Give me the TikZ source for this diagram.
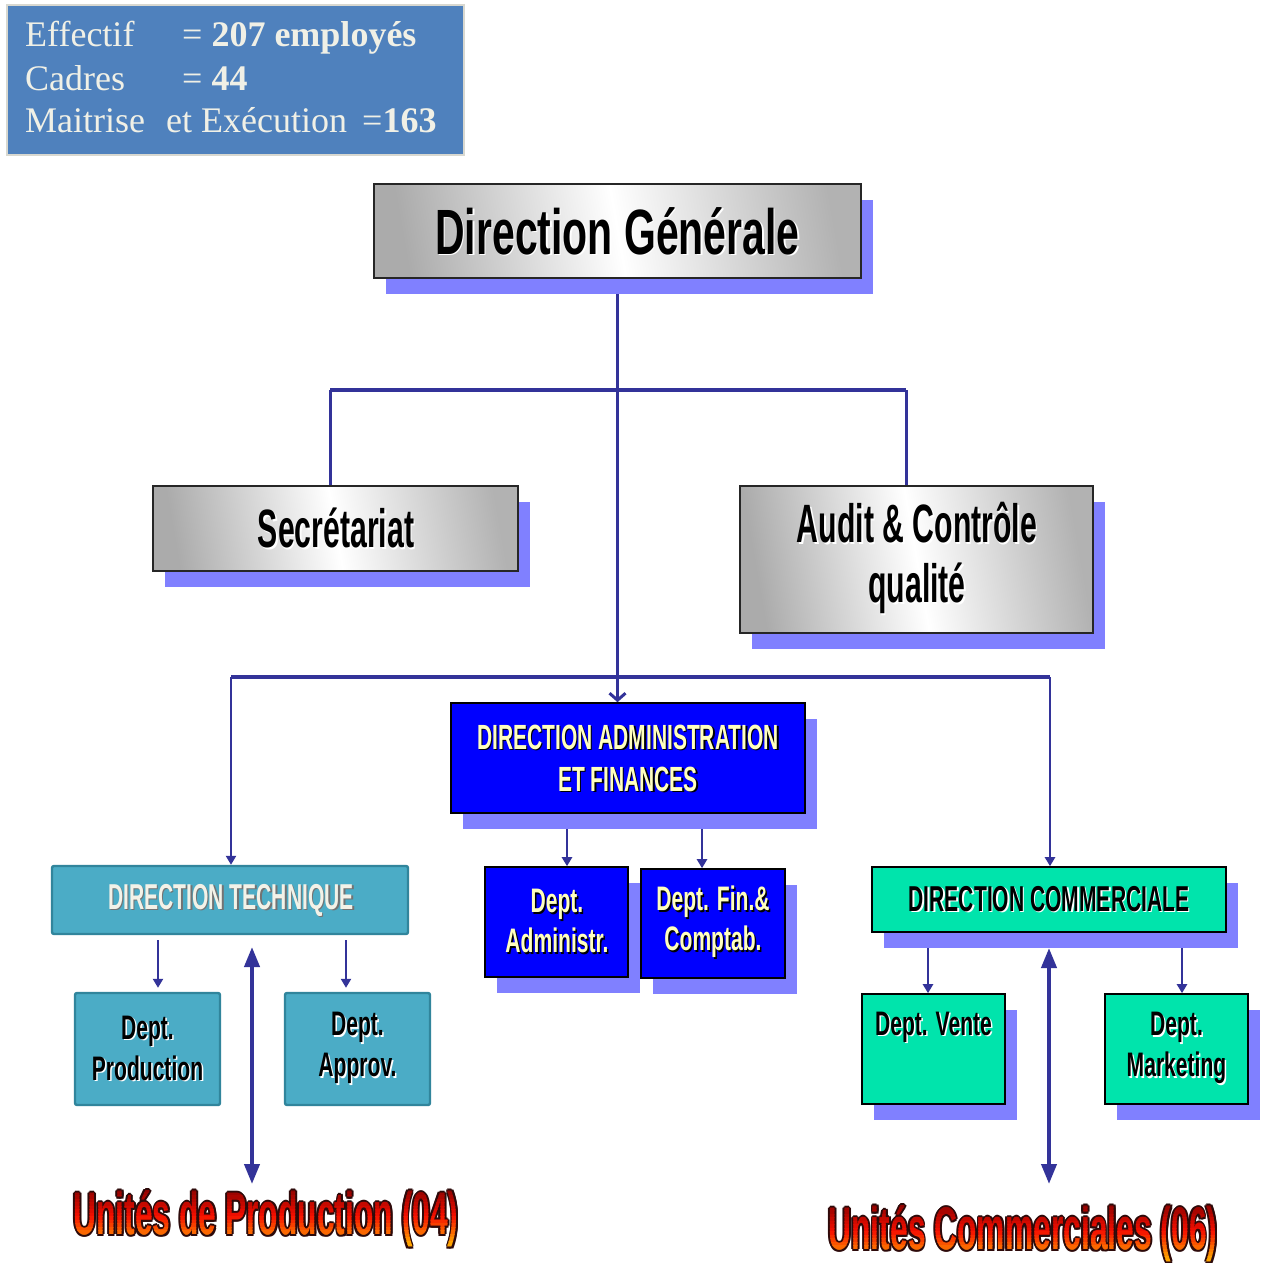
\documentclass[tikz,border=0pt]{standalone}
\usepackage{fontspec}
\setmainfont{Liberation Serif}
\setsansfont{Liberation Sans}
\usetikzlibrary{shadows,backgrounds,arrows.meta}

\definecolor{link}{RGB}{51,51,153}
\definecolor{shadowblue}{RGB}{128,128,255}
\definecolor{infoblue}{RGB}{79,129,189}
\definecolor{infoedge}{RGB}{216,216,208}
\definecolor{infotext}{RGB}{240,240,230}
\definecolor{dafblue}{RGB}{0,0,255}
\definecolor{dafyellow}{RGB}{255,255,190}
\definecolor{techteal}{RGB}{75,172,198}
\definecolor{techedge}{RGB}{49,133,156}
\definecolor{techtext}{RGB}{242,242,232}
\definecolor{commgreen}{RGB}{0,228,172}
\definecolor{waoutline}{RGB}{45,10,10}
\definecolor{wadark}{RGB}{130,0,0}
\definecolor{wared}{RGB}{245,15,0}
\definecolor{waorange}{RGB}{255,165,0}

% condensed bold sans: size, baseline skip, horizontal stretch
\newcommand\condfont[3]{\sffamily\bfseries\fontsize{#1}{#2}\selectfont\addfontfeatures{FakeStretch=#3}}

% label with a soft offset shadow: name, position, font, colour, shadow colour, text
\newcommand\twotext[6]{%
  \node[font=#3, text=#5, align=center, inner sep=0pt, xshift=1.5pt, yshift=-1.5pt] (#1-shadow) at (#2) {#6};
  \node[font=#3, text=#4, align=center, inner sep=0pt] (#1) at (#2) {#6};}

% outlined banner text with a vertical red-orange gradient: name, centre, text
\newcommand\wordart[3]{%
  \foreach \dx/\dy [count=\k] in {1.9/0,-1.9/0,0/1.9,0/-1.9,1.35/1.35,-1.35/1.35,1.35/-1.35,-1.35/-1.35}
    \node[font=\condfont{60}{60}{0.53}, text=waoutline, inner sep=0pt]
      (#1o\k) at ([shift={(\dx pt,\dy pt)}]#2) {#3};
  \foreach \i in {0,...,19}{
    \pgfmathsetmacro\ytop{-34+\i*3.5}
    \pgfmathsetmacro\tt{\i/19}
    \pgfmathsetmacro\pa{min(100,\tt*100/0.45)}
    \pgfmathsetmacro\pb{max(0,min(100,(\tt-0.45)*100/0.4))}
    \colorlet{stripc}{wared!\pa!wadark}
    \colorlet{stripc}{waorange!\pb!stripc}
    \begin{scope}
      \clip ([yshift=-\ytop pt]#2) ++(-300,0) rectangle ++(600,3.6);
      \node[font=\condfont{60}{60}{0.53}, text=stripc, inner sep=0pt] (#1g\i) at (#2) {#3};
    \end{scope}
  }}

\tikzset{
  box/.style={rectangle, inner sep=0pt},
  purpleshadow/.style={drop shadow={shadow xshift=12pt, shadow yshift=-16pt, fill=shadowblue, opacity=1}},
  greybox/.style={box, draw=black!85, line width=1.6pt, left color=black!33, right color=black!30, middle color=white, shading angle=100, purpleshadow},
  dafbox/.style={box, draw=black, line width=1.6pt, fill=dafblue, purpleshadow},
  techbox/.style={box, draw=techedge, line width=2.4pt, rounded corners=2pt, fill=techteal},
  commbox/.style={box, draw=black, line width=1.6pt, fill=commgreen, purpleshadow},
  infotxt/.style={font=\fontsize{36}{36}\selectfont, text=infotext, inner sep=0pt, anchor=base west},
  trunk/.style={link, line width=3pt},
  bar/.style={link, line width=4pt},
  feed/.style={link, line width=2.5pt, -{Triangle[length=9pt,width=10pt]}},
  bigarrow/.style={link, line width=4pt, {Triangle[length=20pt,width=15pt]}-{Triangle[length=20pt,width=15pt]}},
}

\begin{document}
\begin{tikzpicture}[x=1pt,y=-1pt]
\useasboundingbox (0,0) rectangle (1264,1263);

% head-count panel
\node[box, draw=infoedge, line width=2.5pt, fill=infoblue, minimum width=457pt, minimum height=150pt] (info) at (235.5,80) {};
\node[infotxt] (eff) at (25,47) {Effectif};
\node[infotxt] (effv) at (182,47) {= \textbf{207 employés}};
\node[infotxt] (cad) at (25,90) {Cadres};
\node[infotxt] (cadv) at (182,90) {= \textbf{44}};
\node[infotxt] (mai) at (25,132) {Maitrise};
\node[infotxt] (exe) at (166,132) {et Exécution};
\node[infotxt] (maiv) at (362,132) {=\textbf{163}};

% top level
\node[greybox, minimum width=487pt, minimum height=94pt] (dg) at (617.5,231) {};
\twotext{dgt}{dg}{\condfont{64}{64}{0.64}}{black}{white}{Direction Générale}

\node[greybox, minimum width=365pt, minimum height=85pt] (sec) at (335.5,528.5) {};
\twotext{sect}{336,528}{\condfont{54}{60}{0.56}}{black}{white}{Secrétariat}

\node[greybox, minimum width=353pt, minimum height=147pt] (aud) at (916.5,559.5) {};
\twotext{audt}{917,558}{\condfont{54}{60}{0.56}}{black}{white}{Audit \& Contrôle\\qualité}

% administration and finance
\node[dafbox, minimum width=354pt, minimum height=110pt] (daf) at (628,758) {};
\twotext{daft}{628,758}{\condfont{35}{42}{0.6}}{dafyellow}{black}{DIRECTION ADMINISTRATION\\ET FINANCES}

\node[dafbox, minimum width=143pt, minimum height=110pt] (adm) at (556.5,922) {};
\twotext{admt}{557,921}{\condfont{34}{40}{0.62}}{dafyellow}{black}{Dept.\\Administr.}
\node[dafbox, minimum width=144pt, minimum height=109pt] (fin) at (713,923.5) {};
\twotext{fint}{713,922}{\condfont{34}{40}{0.62}}{dafyellow}{black}{Dept. Fin.\&\\Comptab.}

% technical branch
\node[techbox, minimum width=356pt, minimum height=68pt] (dt) at (230,900) {};
\twotext{dtt}{231,900}{\condfont{36}{40}{0.585}}{techtext}{black!55}{DIRECTION TECHNIQUE}
\node[techbox, minimum width=145pt, minimum height=112pt] (prod) at (147.5,1049) {};
\twotext{prodt}{147.5,1048}{\condfont{34}{41}{0.62}}{black}{white}{Dept.\\Production}
\node[techbox, minimum width=145pt, minimum height=112pt] (appr) at (357.5,1049) {};
\twotext{apprt}{357.5,1048}{\condfont{34}{41}{0.62}}{black}{white}{Dept.\\Approv.}

% commercial branch
\node[commbox, minimum width=354pt, minimum height=65pt] (dc) at (1049,899.5) {};
\twotext{dct}{1049,899}{\condfont{36}{40}{0.585}}{black}{white}{DIRECTION COMMERCIALE}
\node[commbox, minimum width=143pt, minimum height=110pt] (vente) at (933.5,1049) {};
\twotext{ventet}{933.5,1027}{\condfont{34}{41}{0.62}}{black}{white}{Dept. Vente}
\node[commbox, minimum width=143pt, minimum height=110pt] (mkt) at (1176.5,1049) {};
\twotext{mktt}{1176.5,1048}{\condfont{34}{41}{0.62}}{black}{white}{Dept.\\Marketing}

% operating units
\coordinate (upc) at (266,1219);
\coordinate (ucc) at (1023,1234);
\wordart{up}{upc}{Unités de Production (04)}
\wordart{uc}{ucc}{Unités Commerciales (06)}

% junctions and free arrow ends
\coordinate (j1l) at (330,390);
\coordinate (j1r) at (906,390);
\coordinate (j2l) at (231,677);
\coordinate (j2r) at (1050,677);
\coordinate (dafa) at (567,822);
\coordinate (dafb) at (702,822);
\coordinate (dta) at (158,940);
\coordinate (dtb) at (346,940);
\coordinate (dca) at (928,944);
\coordinate (dcb) at (1182,944);
\coordinate (pu) at (252,947);
\coordinate (pd) at (252,1184);
\coordinate (cu) at (1049,948);
\coordinate (cd) at (1049,1184);

\begin{pgfonlayer}{background}
  \fill[white] (0,0) rectangle (1264,1263);
  \draw[trunk, -{Straight Barb[length=7pt,width=16pt]}] (dg.south) -- (dg.south |- daf.north);
  \draw[bar] (j1l) -- (j1r);
  \draw[trunk] (j1l) -- (j1l |- sec.north);
  \draw[trunk] (j1r) -- (j1r |- aud.north);
  \draw[bar] (j2l) -- (j2r);
  \draw[feed] (j2l) -- (j2l |- dt.north);
  \draw[feed] (j2r) -- (j2r |- dc.north);
  \draw[feed] (dafa) -- (dafa |- adm.north);
  \draw[feed] (dafb) -- (dafb |- fin.north);
  \draw[feed, shorten >=4pt] (dta) -- (dta |- prod.north);
  \draw[feed, shorten >=4pt] (dtb) -- (dtb |- appr.north);
  \draw[feed] (dca) -- (dca |- vente.north);
  \draw[feed] (dcb) -- (dcb |- mkt.north);
  \draw[bigarrow] (pu) -- (pd);
  \draw[bigarrow] (cu) -- (cd);
\end{pgfonlayer}
\end{tikzpicture}
\end{document}
